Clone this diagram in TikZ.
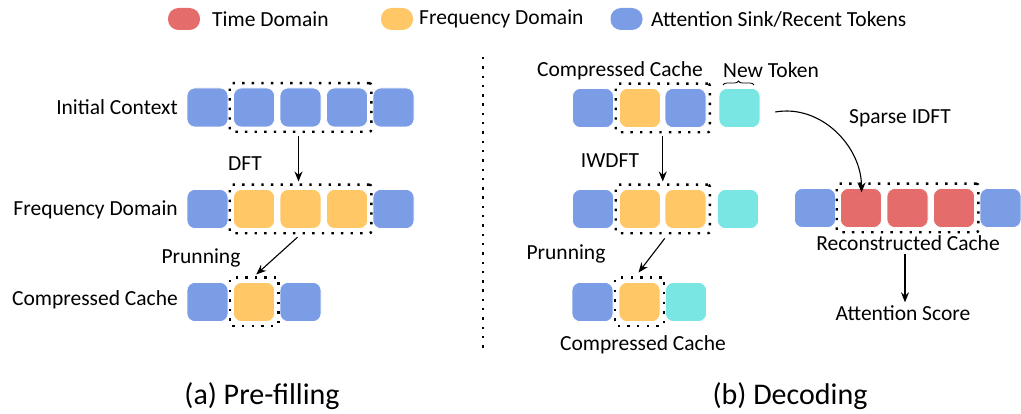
\documentclass[tikz,border=0pt]{standalone}
\usepackage{fontspec}
\setmainfont{Carlito}
\usetikzlibrary{decorations.pathreplacing,arrows.meta,fit}
\definecolor{tred}{RGB}{228,108,106}
\definecolor{tyel}{RGB}{255,199,102}
\definecolor{tblu}{RGB}{123,157,229}
\definecolor{tcya}{RGB}{122,230,228}
\begin{document}
\begin{tikzpicture}[x=1pt,y=-1pt,
  blk/.style={rounded corners=8pt, minimum width=41pt, minimum height=39pt, inner sep=0pt, draw=white, line width=0.6pt},
  legblob/.style={rounded corners=10.5pt, minimum width=32pt, minimum height=22pt, inner sep=0pt},
  dotbox/.style={draw, line width=2.4pt, dash pattern=on 2.4pt off 7.2pt, rounded corners=2pt, inner xsep=3.5pt, inner ysep=4.5pt},
  lbl/.style={font=\fontsize{21.5}{24}\selectfont, inner sep=1pt},
  ttl/.style={font=\fontsize{30}{34}\selectfont, inner sep=1pt},
  arr/.style={-{Stealth[length=10pt,width=8pt]}, line width=1.1pt}]
\useasboundingbox (0,0) rectangle (1021,414);

% legend
\node[legblob, fill=tred] (lr) at (184,19) {};
\node[lbl, anchor=west] (lrt) at (211,19) {Time Domain};
\node[legblob, fill=tyel] (ly) at (397,19) {};
\node[lbl, anchor=west] (lyt) at (418,19) {Frequency Domain};
\node[legblob, fill=tblu] (lb) at (626.5,19) {};
\node[lbl, anchor=west] (lbt) at (650,19) {Attention Sink/Recent Tokens};

% separator
\coordinate (sepa) at (483,57);
\coordinate (sepb) at (483,348);
\draw[line width=2.4pt, dash pattern=on 2.4pt off 6.9pt] (sepa) -- (sepb);

% ---- (a) Pre-filling
\node[blk, fill=tblu] (a1) at (207.5,107.5) {};
\node[blk, fill=tblu] (a2) at (254,107.5) {};
\node[blk, fill=tblu] (a3) at (300.5,107.5) {};
\node[blk, fill=tblu] (a4) at (347,107.5) {};
\node[blk, fill=tblu] (a5) at (393.5,107.5) {};
\node[dotbox, fit=(a2)(a4)] (abox1) {};
\node[lbl, anchor=east] (lic) at (179,107) {Initial Context};

\node[blk, fill=tblu] (b1) at (207.5,209) {};
\node[blk, fill=tyel] (b2) at (254,209) {};
\node[blk, fill=tyel] (b3) at (300.5,209) {};
\node[blk, fill=tyel] (b4) at (347,209) {};
\node[blk, fill=tblu] (b5) at (393.5,209) {};
\node[dotbox, fit=(b2)(b4)] (abox2) {};
\node[lbl, anchor=east] (lfd) at (179,210) {Frequency Domain};

\node[blk, fill=tblu] (c1) at (207.5,302) {};
\node[blk, fill=tyel] (c2) at (254,302) {};
\node[blk, fill=tblu] (c3) at (300.5,302) {};
\node[dotbox, fit=(c2)] (abox3) {};
\node[lbl, anchor=east] (lcc) at (179,300) {Compressed Cache};

\node[lbl] (ldft) at (245,164) {DFT};
\node[lbl] (lpr) at (201,258) {Prunning};
\draw[arr, shorten <=3pt, shorten >=2pt] ([xshift=-2pt]abox1.south) -- ([xshift=-2pt]abox2.north);
\draw[arr, shorten <=4pt, shorten >=3pt] (abox2.south) -- (abox3.north);

\node[ttl] (ta) at (262,396) {(a) Pre-filling};

% ---- (b) Decoding
\node[blk, fill=tblu] (d1) at (593,108) {};
\node[blk, fill=tyel] (d2) at (640,108) {};
\node[blk, fill=tblu] (d3) at (685.5,108) {};
\node[blk, fill=tcya] (d4) at (739.5,108) {};
\node[dotbox, fit=(d2)(d3)] (bbox1) {};
\node[lbl] (lcc2) at (620,71) {Compressed Cache};
\node[lbl] (lnt) at (771,70) {New Token};
\coordinate (brl) at (723,85);
\coordinate (brr) at (754,85);
\draw[line width=0.8pt, decorate, decoration={brace, amplitude=4pt}] (brl) -- (brr);

\node[blk, fill=tblu] (e1) at (593,209) {};
\node[blk, fill=tyel] (e2) at (640,209) {};
\node[blk, fill=tyel] (e3) at (685.5,209) {};
\node[blk, fill=tcya] (e4) at (738,209) {};
\node[dotbox, fit=(e2)(e3)] (bbox2) {};

\node[blk, fill=tblu] (f1) at (592.5,302) {};
\node[blk, fill=tyel] (f2) at (639.5,302) {};
\node[blk, fill=tcya] (f3) at (686,302) {};
\node[dotbox, fit=(f2)] (bbox3) {};
\node[lbl] (lcc3) at (643,345) {Compressed Cache};

\node[lbl] (liw) at (610,161) {IWDFT};
\node[lbl] (lpr2) at (566,254) {Prunning};
\draw[arr, shorten <=3pt, shorten >=2pt] (bbox1.south) -- (bbox2.north);
\draw[arr, shorten <=5pt, shorten >=5pt] ([xshift=5pt]bbox2.south) -- ([xshift=-4pt]bbox3.north);

\node[blk, fill=tblu] (g1) at (815,208) {};
\node[blk, fill=tred] (g2) at (861,208) {};
\node[blk, fill=tred] (g3) at (907.5,208) {};
\node[blk, fill=tred] (g4) at (954,208) {};
\node[blk, fill=tblu] (g5) at (1000.5,208) {};
\node[dotbox, fit=(g2)(g4)] (rbox) {};
\node[lbl] (lrc) at (908,243) {Reconstructed Cache};
\node[lbl] (las) at (903,313) {Attention Score};
\node[lbl] (lsi) at (900,118) {Sparse IDFT};

\draw[arr] ([xshift=15pt,yshift=-4pt]d4.east) to[out=10, in=90] ([xshift=-46pt,yshift=-10pt]rbox.north);
\draw[arr, shorten <=2pt, shorten >=2pt] ([xshift=-3pt]lrc.south) -- ([xshift=2pt]las.north);

\node[ttl] (tb) at (790,396) {(b) Decoding};
\end{tikzpicture}
\end{document}
